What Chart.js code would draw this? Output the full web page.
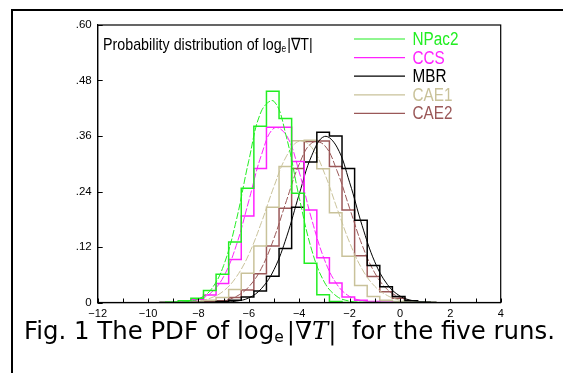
<!DOCTYPE html>
<html>
<head>
<meta charset="utf-8">
<script src="https://cdn.jsdelivr.net/npm/chart.js@4/dist/chart.umd.min.js"></script>
<style>
  body { margin: 0; background: #fff; }
  #wrap { position: relative; width: 563px; height: 373px; overflow: hidden; background: #fff; }
  #c { position: absolute; left: 0; top: 0; }
  #frame { position: absolute; left: 11px; top: 9px; width: 700px; height: 500px;
           border-left: 2px solid #000; border-top: 2px solid #000; }
  #caption { position: absolute; left: 24px; top: 316px; font: 24.4px "DejaVu Sans", sans-serif;
             color: #000; white-space: nowrap; }
  #caption sub { font-size: 15.5px; vertical-align: -3px; }
  #caption .m { font-family: "DejaVu Serif", serif; margin-left: 3px; }
</style>
</head>
<body>
<div id="wrap">
  <canvas id="c" width="563" height="373"></canvas>
  <div id="frame"></div>
  <div id="caption">Fig. 1 The PDF of log<sub>e</sub><span class="m">|∇<i>T</i>|</span>&nbsp; for the five runs.</div>
</div>
<script>
// series names, in legend order
const seriesNames = ['NPac2', 'CCS', 'MBR', 'CAE1', 'CAE2'];

// histogram bin centres (bin width 0.5)
const binCenters = [-9.05, -8.55, -8.05, -7.55, -7.05, -6.55, -6.05, -5.55, -5.05, -4.55, -4.05,
                    -3.55, -3.05, -2.55, -2.05, -1.55, -1.05, -0.55, -0.05, 0.45, 0.95];

// histogram heights
const histNPac2 = [0.001, 0.004, 0.009, 0.026, 0.061, 0.131, 0.247, 0.381, 0.457, 0.398, 0.236,
                   0.085, 0.017, 0.002, 0, 0, 0, 0, 0, 0, 0];
const histCCS   = [0.001, 0.003, 0.007, 0.016, 0.041, 0.093, 0.187, 0.290, 0.379, 0.379, 0.305,
                   0.200, 0.097, 0.042, 0.012, 0.005, 0.002, 0.001, 0, 0, 0];
const histMBR   = [0, 0, 0, 0, 0.002, 0.005, 0.012, 0.025, 0.057, 0.117, 0.206,
                   0.304, 0.368, 0.360, 0.290, 0.178, 0.080, 0.034, 0.013, 0.004, 0.001];
const histCAE1  = [0, 0, 0.002, 0.005, 0.011, 0.028, 0.063, 0.122, 0.206, 0.294, 0.350,
                   0.351, 0.289, 0.194, 0.100, 0.037, 0.013, 0.005, 0.002, 0, 0];
const histCAE2  = [0, 0, 0, 0.002, 0.004, 0.011, 0.027, 0.062, 0.122, 0.204, 0.290,
                   0.348, 0.349, 0.294, 0.200, 0.101, 0.056, 0.023, 0.009, 0.003, 0];

// fitted curves
const curveX = [-9, -8.5, -8, -7.5, -7, -6.5, -6, -5.5, -5, -4.5, -4,
                -3.5, -3, -2.5, -2, -1.5, -1, -0.5, 0, 0.5, 1];
const fitNPac2 = [0.0003, 0.0016, 0.0076, 0.028, 0.080, 0.177, 0.307, 0.414, 0.435, 0.356, 0.227,
                  0.113, 0.044, 0.013, 0.003, 0.0005, 0, 0, 0, 0, 0];
const fitCCS   = [0.0003, 0.0016, 0.0063, 0.021, 0.056, 0.123, 0.220, 0.319, 0.377, 0.361, 0.282,
                  0.179, 0.093, 0.039, 0.013, 0.004, 0.001, 0, 0, 0, 0];
const fitMBR   = [0, 0, 0, 0.0002, 0.0007, 0.003, 0.010, 0.030, 0.071, 0.142, 0.234,
                  0.318, 0.359, 0.336, 0.260, 0.166, 0.088, 0.039, 0.014, 0.004, 0.001];
const fitCAE1  = [0.0003, 0.001, 0.0035, 0.010, 0.025, 0.055, 0.104, 0.173, 0.251, 0.317, 0.349,
                  0.335, 0.280, 0.204, 0.130, 0.072, 0.035, 0.015, 0.005, 0.002, 0.0005];
const fitCAE2  = [0, 0.0001, 0.0003, 0.0012, 0.0044, 0.013, 0.034, 0.074, 0.139, 0.221, 0.299,
                  0.345, 0.340, 0.285, 0.204, 0.124, 0.064, 0.028, 0.011, 0.003, 0.001];

// axis ticks
const xTickValues = [-12, -10, -8, -6, -4, -2, 0, 2, 4];
const xTickLabels = ['\u221212', '\u221210', '\u22128', '\u22126', '\u22124', '\u22122', '0', '2', '4'];
const yTickLabels = ['0', '.12', '.24', '.36', '.48', '.60'];

const colors = ['#22ee22', '#ff22ff', '#000000', '#c9c29a', '#9a5858'];
const hists = [histNPac2, histCCS, histMBR, histCAE1, histCAE2];
const fits = [fitNPac2, fitCCS, fitMBR, fitCAE1, fitCAE2];

function histPoints(vals) {
    const pts = [{ x: binCenters[0] - 0.5, y: 0 }];
    binCenters.forEach((c, i) => pts.push({ x: c, y: vals[i] }));
    pts.push({ x: binCenters[binCenters.length - 1] + 0.5, y: 0 });
    return pts;
}

const datasets = [];
seriesNames.forEach((name, i) => {
    datasets.push({
        label: name,
        data: histPoints(hists[i]),
        borderColor: colors[i],
        borderWidth: 1.5,
        stepped: 'middle',
        pointRadius: 0,
        fill: false
    });
    datasets.push({
        label: name + ' fit',
        data: curveX.map((x, k) => ({ x: x, y: fits[i][k] })),
        borderColor: colors[i],
        borderWidth: 1,
        borderDash: i === 2 ? [] : [7, 2],
        tension: 0.4,
        pointRadius: 0,
        fill: false
    });
});

const labelFont = '"Liberation Sans", sans-serif';

// narrow text: squeeze horizontally, returns drawn width
function narrowText(ctx, str, x, y, sx) {
    ctx.save();
    ctx.translate(x, y);
    ctx.scale(sx, 1);
    ctx.fillText(str, 0, 0);
    const w = ctx.measureText(str).width * sx;
    ctx.restore();
    return w;
}

// box, inward ticks, title and legend
const decor = {
    id: 'decor',
    afterDraw(chart) {
        const ctx = chart.ctx;
        const a = chart.chartArea;
        const xs = chart.scales.x, ys = chart.scales.y;
        ctx.save();
        ctx.strokeStyle = '#000';
        ctx.lineWidth = 1.2;
        ctx.strokeRect(a.left, a.top, a.right - a.left, a.bottom - a.top);
        ctx.lineWidth = 1;
        ctx.beginPath();
        xs.ticks.forEach(t => {
            const px = Math.round(xs.getPixelForValue(t.value)) + 0.5;
            ctx.moveTo(px, a.bottom);
            ctx.lineTo(px, a.bottom - 4);
        });
        ys.ticks.forEach(t => {
            const py = Math.round(ys.getPixelForValue(t.value)) + 0.5;
            ctx.moveTo(a.left, py);
            ctx.lineTo(a.left + 5, py);
        });
        ctx.stroke();

        // title
        ctx.fillStyle = '#000';
        ctx.textBaseline = 'alphabetic';
        const sx = 0.84;
        let tx = 103, ty = 50;
        ctx.font = '17px ' + labelFont;
        tx += narrowText(ctx, 'Probability distribution of log', tx, ty, sx);
        ctx.font = '10px ' + labelFont;
        tx += narrowText(ctx, 'e', tx, ty + 2, sx) + 1;
        ctx.font = '17px ' + labelFont;
        narrowText(ctx, '|\u2207T|', tx, ty, sx);

        // legend
        ctx.font = '18px ' + labelFont;
        ctx.textBaseline = 'middle';
        seriesNames.forEach((name, i) => {
            const ly = 39 + i * 18.6;
            ctx.strokeStyle = colors[i];
            ctx.lineWidth = 1.2;
            ctx.beginPath();
            ctx.moveTo(354, ly);
            ctx.lineTo(405, ly);
            ctx.stroke();
            ctx.fillStyle = colors[i];
            narrowText(ctx, name, 412.5, ly + 1, 0.85);
        });
        ctx.restore();
    }
};

new Chart(document.getElementById('c'), {
    type: 'line',
    data: { datasets: datasets },
    options: {
        responsive: false,
        animation: false,
        events: [],
        layout: { padding: { left: 0, top: 25, right: 62.3, bottom: 50.5 } },
        plugins: { legend: { display: false }, tooltip: { enabled: false } },
        scales: {
            x: {
                type: 'linear',
                min: -12, max: 4,
                afterFit: s => { s.height = 20; },
                grid: { display: false, drawTicks: false },
                border: { display: true, color: '#000', width: 1.2 },
                ticks: {
                    stepSize: 1, autoSkip: false, maxRotation: 0, padding: 5,
                    color: '#000', font: { family: 'Liberation Sans', size: 11 },
                    callback: v => {
                        const i = xTickValues.indexOf(v);
                        return i >= 0 ? xTickLabels[i] : '';
                    }
                }
            },
            y: {
                min: 0, max: 0.6,
                afterFit: s => { s.width = 97.7; },
                grid: { display: false, drawTicks: false },
                border: { display: true, color: '#000', width: 1.2 },
                ticks: {
                    stepSize: 0.12, padding: 6,
                    color: '#000', font: { family: 'Liberation Sans', size: 11.5 },
                    callback: (v, i) => yTickLabels[i]
                }
            }
        }
    },
    plugins: [decor]
});
</script>
</body>
</html>
